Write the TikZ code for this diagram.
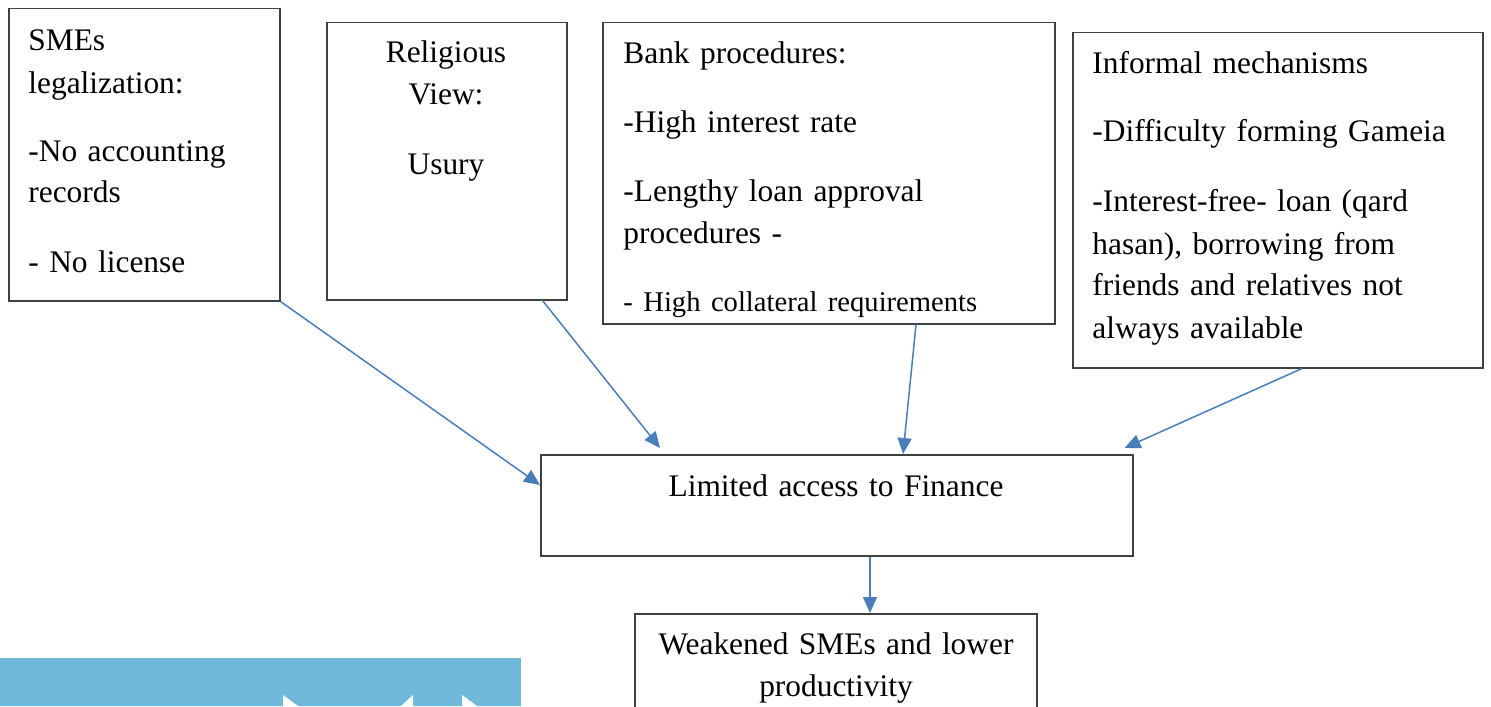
\documentclass[tikz,border=0pt]{standalone}
\usepackage{fontspec}
\setmainfont{Liberation Serif}
\usetikzlibrary{arrows.meta}
\definecolor{linkblue}{HTML}{4A7EBB}
\definecolor{boxline}{HTML}{404040}
\definecolor{bannerblue}{HTML}{70B9DA}
\tikzstyle{cause_box}=[rectangle,
                       draw=boxline,
                       line width=0.75pt,
                       inner sep=0pt,
                       anchor=north west]
\tikzstyle{box_text}=[inner sep=0pt,
                      anchor=base west,
                      align=left,
                      text width=200pt,
                      font=\fontsize{15.7}{21}\selectfont]
\tikzstyle{mid_text}=[box_text, anchor=base, align=center]
\tikzstyle{link}=[draw=linkblue, line width=0.75pt,
                  -{Triangle[length=8pt, width=7pt]}]

\begin{document}
\begin{tikzpicture}[x=0.5pt, y=-0.5pt]
    \useasboundingbox (0,0) rectangle (1491,706);
    \clip (0,0) rectangle (1491,706);

    % banner piece at the lower left
    \fill[bannerblue] (0,658) rectangle (521,706);
    \fill[white] (283,695) -- (298,706) -- (283,706) -- cycle;
    \fill[white] (413,695) -- (413,706) -- (401,706) -- cycle;
    \fill[white] (462,695) -- (477,706) -- (462,706) -- cycle;

    \node at (8, 8) (SMEbox) [cause_box, minimum width=135.5pt, minimum height=146pt] {};
    \node at (326, 22) (RelBox) [cause_box, minimum width=120pt, minimum height=138.5pt] {};
    \node at (602, 22) (BankBox) [cause_box, minimum width=226pt, minimum height=150.5pt] {};
    \node at (1072, 32) (InfBox) [cause_box, minimum width=205pt, minimum height=167.5pt] {};
    \node at (540, 454) (LimBox) [cause_box, minimum width=296pt, minimum height=50.5pt] {};
    \node at (634, 613) (WeakBox) [cause_box, minimum width=201pt, minimum height=70pt] {};

    \node at (28, 51) (SMEtext) [box_text, text width=125pt] {SMEs\\ legalization:\\[13pt] -No accounting\\ records\\[14pt] - No license};
    \node at (446, 62) (RelText) [mid_text, text width=110pt] {Religious\\ View:\\[14pt] Usury};
    \node at (623, 64) (BankText) [box_text] {Bank procedures:\\[13.5pt] -High interest rate\\[13pt] -Lengthy loan approval\\ procedures -\\[13pt] {\fontsize{14.3}{18}\selectfont - High collateral requirements}};
    \node at (1092, 74) (InfText) [box_text] {Informal mechanisms\\[13pt] -Difficulty forming Gameia\\[14pt] -Interest-free- loan (qard\\ hasan), borrowing from\\ friends and relatives not\\ always available};
    \node at (836, 496) (LimText) [mid_text] {Limited access to Finance};
    \node at (836, 654) (WeakText) [mid_text] {Weakened SMEs and lower\\ productivity};

    \draw[link] (SMEbox.south east) -- ([yshift=-15.5pt]LimBox.north west);
    \draw[link] ([xshift=-12.5pt]RelBox.south east) -- ([xshift=60pt, yshift=3pt]LimBox.north west);
    \draw[link] ([xshift=157pt]BankBox.south west) -- ([xshift=181.5pt]LimBox.north west);
    \draw[link] ([xshift=115pt]InfBox.south west) -- ([xshift=-4.5pt, yshift=3pt]LimBox.north east);
    \draw[link] ([xshift=165pt]LimBox.south west) -- ([xshift=118pt]WeakBox.north west);
  \end{tikzpicture}
\end{document}
